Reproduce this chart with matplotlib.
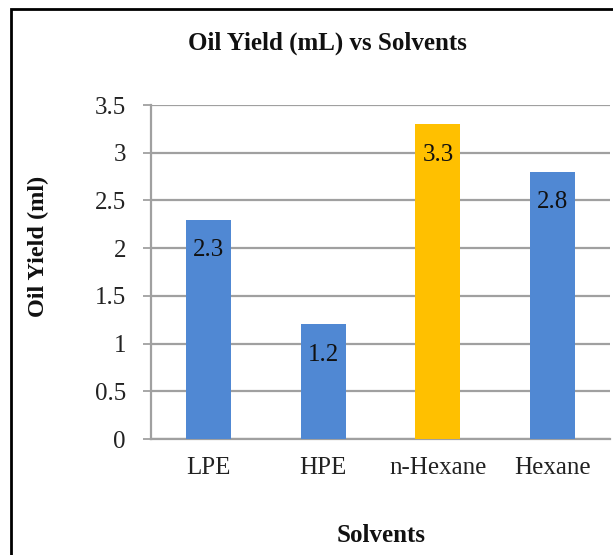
import matplotlib.pyplot as plt
from matplotlib.patches import Rectangle

solvents = ["LPE", "HPE", "n-Hexane", "Hexane"]
oil_yield = [2.3, 1.2, 3.3, 2.8]
bar_colors = ["#5088d3", "#5088d3", "#ffc000", "#5088d3"]
yticks = [0, 0.5, 1, 1.5, 2, 2.5, 3, 3.5]
ytick_labels = ["0", "0.5", "1", "1.5", "2", "2.5", "3", "3.5"]

plt.rcParams["font.family"] = ["Liberation Serif", "DejaVu Serif"]

W, H = 613, 555
fig = plt.figure(figsize=(W / 100, H / 100), dpi=100)

# axes placed in pixel terms
left, right, bottom, top = 151, 610, 439, 105
ax = fig.add_axes([left / W, 1 - bottom / H, (right - left) / W, (bottom - top) / H])

x = range(len(solvents))
bars = ax.bar(x, oil_yield, width=0.39, color=bar_colors, zorder=3)

for b, v in zip(bars, oil_yield):
    ax.annotate(f"{v}", (b.get_x() + b.get_width() / 2, v),
                xytext=(0, -22), textcoords="offset points",
                ha="center", va="center", fontsize=18, color="#111111", zorder=4)

ax.set_xlim(-0.5, len(solvents) - 0.5)
ax.set_ylim(0, 3.5)
ax.set_yticks(yticks)
ax.set_yticklabels(ytick_labels)
ax.set_xticks(list(x))
ax.set_xticklabels(solvents)

ax.grid(axis="y", color="#a0a0a0", linewidth=1.6, zorder=0)
ax.tick_params(axis="y", length=6, width=1.3, color="#a0a0a0", pad=12,
               labelsize=18, labelcolor="#222222")
ax.tick_params(axis="x", length=0, pad=13, labelsize=18, labelcolor="#222222")

for s in ["top", "right"]:
    ax.spines[s].set_visible(False)
ax.spines["left"].set_color("#a0a0a0")
ax.spines["left"].set_linewidth(1.6)
ax.spines["bottom"].set_color("#a0a0a0")
ax.spines["bottom"].set_linewidth(1.6)

fig.text(327 / W, 1 - 43 / H, "Oil Yield (mL) vs Solvents",
         ha="center", va="center", fontsize=18, fontweight="bold", color="#111111")
fig.text(381 / W, 1 - 536 / H, "Solvents",
         ha="center", va="center", fontsize=18, fontweight="bold", color="#111111")
fig.text(38 / W, 1 - 246 / H, "Oil Yield (ml)", rotation=90,
         ha="center", va="center", fontsize=17.5, fontweight="bold", color="#111111")

# black frame, only top and left edges inside the picture
fig.patches.append(Rectangle((11 / W, -0.1), 1.2, 1 - 9 / H + 0.1,
                             transform=fig.transFigure, fill=False,
                             edgecolor="black", linewidth=2))

fig.savefig("out.png", dpi=100)
